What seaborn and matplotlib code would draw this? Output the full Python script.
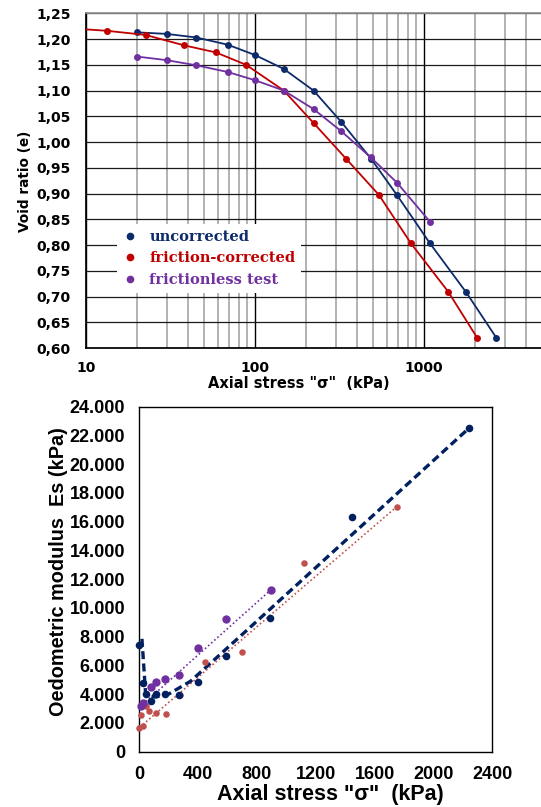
import numpy as np
import pandas as pd
import matplotlib
matplotlib.use("Agg")
import matplotlib.pyplot as plt
import seaborn as sns
from matplotlib.ticker import FixedLocator, FuncFormatter, NullFormatter, LogLocator
from matplotlib.lines import Line2D

# ---------------- top chart: void ratio vs axial stress (log) ----------------
unc_stress = [20, 30, 45, 69, 100, 148, 222, 324, 485, 692, 1086, 1778, 2678]
unc_void = [1.213, 1.210, 1.203, 1.189, 1.169, 1.142, 1.100, 1.039, 0.968, 0.897, 0.803, 0.708, 0.620]
fc_stress = [8, 13.3, 22.5, 37.8, 58.7, 88.5, 148, 222, 345, 542, 838, 1393, 2061]
fc_void = [1.221, 1.216, 1.208, 1.188, 1.174, 1.150, 1.100, 1.037, 0.968, 0.897, 0.803, 0.709, 0.620]
fl_stress = [20, 30, 45, 69, 100, 148, 222, 324, 485, 692, 1086]
fl_void = [1.166, 1.159, 1.149, 1.136, 1.120, 1.100, 1.064, 1.021, 0.970, 0.921, 0.845]
series_labels = ["uncorrected", "friction-corrected", "frictionless test"]

# ---------------- bottom chart: oedometric modulus vs axial stress ----------------
es_unc_stress = [0, 25, 45, 80, 116, 175, 270, 401, 589, 893, 1446, 2241]
es_unc = [7420, 4760, 4010, 3550, 3990, 3990, 3920, 4870, 6660, 9320, 16350, 22500]
es_fc_stress = [0, 11, 25, 45, 70, 113, 184, 281, 449, 700, 1122, 1752]
es_fc = [1650, 2550, 1790, 3180, 2810, 2670, 2600, 3920, 6260, 6940, 13130, 17050]
es_fl_stress = [11, 27, 80, 116, 175, 270, 401, 589, 895]
es_fl = [3180, 3390, 4480, 4870, 5040, 5320, 7240, 9250, 11250]
# trend lines
unc_trend_x = [20, 45, 110, 200, 350, 755, 2241]
unc_trend_y = [7850, 4000, 3800, 4000, 4900, 8655, 22500]
fc_trend_x = [5, 1752]
fc_trend_y = [1700, 17050]
fl_trend_x = [5, 895]
fl_trend_y = [3100, 11250]

x_ticks_bottom = [0, 400, 800, 1200, 1600, 2000, 2400]
y_ticks_bottom = list(range(0, 24001, 2000))
y_ticks_top = [0.60, 0.65, 0.70, 0.75, 0.80, 0.85, 0.90, 0.95, 1.00, 1.05, 1.10, 1.15, 1.20, 1.25]

NAVY_T = "#0D2B6B"
RED_T = "#C00000"
PURP = "#7030A0"
NAVY_B = "#002060"
RED_B = "#C0504D"

sns.set_theme(style="white")
plt.rcParams["font.family"] = ["DejaVu Sans"]

fig = plt.figure(figsize=(5.41, 8.07), dpi=100)
ax1 = fig.add_axes([86 / 541, 1 - 348 / 807, 1 - 86 / 541, (348 - 13.3) / 807])
ax2 = fig.add_axes([139 / 541, 1 - 751.7 / 807, (492.3 - 139) / 541, (751.7 - 406.7) / 807])

# ---- top ----
ax1.set_xscale("log")
for xs, ys, col in [(unc_stress, unc_void, NAVY_T), (fc_stress, fc_void, RED_T), (fl_stress, fl_void, PURP)]:
    sns.lineplot(x=xs, y=ys, ax=ax1, sort=False, estimator=None, color=col, lw=1.3,
                 marker="o", markersize=5, markeredgewidth=0, zorder=3)
xmax = 10 ** (1 + (541 - 86) / 169)
ax1.set_xlim(10, xmax)
ax1.set_ylim(0.60, 1.25)
ax1.yaxis.set_major_locator(FixedLocator(y_ticks_top))
ax1.yaxis.set_major_formatter(FuncFormatter(lambda v, p: f"{v:.2f}".replace(".", ",")))
ax1.xaxis.set_major_locator(FixedLocator([10, 100, 1000]))
ax1.xaxis.set_minor_locator(LogLocator(base=10, subs=range(2, 10), numticks=20))
ax1.xaxis.set_major_formatter(FuncFormatter(lambda v, p: f"{v:g}"))
ax1.xaxis.set_minor_formatter(NullFormatter())
ax1.grid(which="minor", axis="x", color="#A6A6A6", lw=1.2, zorder=0)
ax1.grid(which="major", axis="x", color="black", lw=1.0, zorder=0)
ax1.grid(which="major", axis="y", color="#1a1a1a", lw=0.9, zorder=0)
ax1.set_axisbelow(True)
ax1.tick_params(which="both", length=0, labelsize=10, labelcolor="black")
ax1.tick_params(axis="y", pad=11)
ax1.tick_params(axis="x", pad=9)
ax1.spines["right"].set_visible(False)
ax1.spines["top"].set_color("#909090")
ax1.spines["left"].set_color("black")
ax1.spines["bottom"].set_color("black")
ax1.set_xlabel('Axial stress "σ"  (kPa)', fontsize=10.5, fontweight="bold", color="black")
ax1.xaxis.set_label_coords(0.468, -0.085)
ax1.set_ylabel("Void ratio (e)", fontsize=9.8, fontweight="bold", color="black")
ax1.yaxis.set_label_coords(-0.119, 0.499)

handles = [Line2D([], [], ls="none", marker="o", markersize=5.5, markeredgewidth=0, color=c)
           for c in (NAVY_T, RED_T, PURP)]
leg = ax1.legend(handles, series_labels, loc="upper left", bbox_to_anchor=(110 / 541, 1 - 217 / 807),
                 bbox_transform=fig.transFigure, frameon=True, facecolor="white", edgecolor="none",
                 framealpha=1, fancybox=False, handlelength=1.0, handletextpad=0.8, borderpad=0.4,
                 labelspacing=0.5, prop={"family": "DejaVu Serif", "weight": "bold", "size": 10.5})
for t, c in zip(leg.get_texts(), (NAVY_T, RED_T, PURP)):
    t.set_color(c)

# ---- bottom ----
sns.lineplot(x=fc_trend_x, y=fc_trend_y, ax=ax2, sort=False, estimator=None, color=RED_B,
             lw=1.2, linestyle=(0, (1, 1.5)), zorder=2)
sns.lineplot(x=fl_trend_x, y=fl_trend_y, ax=ax2, sort=False, estimator=None, color=PURP,
             lw=1.2, linestyle=(0, (1, 1.5)), zorder=2)
sns.lineplot(x=unc_trend_x, y=unc_trend_y, ax=ax2, sort=False, estimator=None, color=NAVY_B,
             lw=2.4, linestyle=(0, (2.4, 1.3)), zorder=3)
sns.scatterplot(x=es_fc_stress, y=es_fc, ax=ax2, color=RED_B, s=22, linewidth=0, zorder=4, clip_on=False)
sns.scatterplot(x=es_fl_stress, y=es_fl, ax=ax2, color=PURP, s=36, linewidth=0, zorder=4, clip_on=False)
sns.scatterplot(x=es_unc_stress, y=es_unc, ax=ax2, color=NAVY_B, s=30, linewidth=0, zorder=5, clip_on=False)
ax2.set_xlim(0, 2400)
ax2.set_ylim(0, 24000)
ax2.xaxis.set_major_locator(FixedLocator(x_ticks_bottom))
ax2.yaxis.set_major_locator(FixedLocator(y_ticks_bottom))
ax2.yaxis.set_major_formatter(FuncFormatter(lambda v, p: f"{int(round(v)):,}".replace(",", ".")))
ax2.xaxis.set_major_formatter(FuncFormatter(lambda v, p: f"{int(round(v))}"))
ax2.tick_params(length=0, labelsize=13, labelcolor="black", labelfontfamily="Liberation Sans")
ax2.tick_params(axis="y", pad=10)
ax2.tick_params(axis="x", pad=10)
for sp in ax2.spines.values():
    sp.set_color("black")
    sp.set_linewidth(1.0)
    sp.set_visible(True)
ax2.set_xlabel('Axial stress "σ"  (kPa)', fontsize=15.5, fontweight="bold", family="Liberation Sans",
               color="black")
ax2.xaxis.set_label_coords(0.543, -0.094)
ax2.set_ylabel("Oedometric modulus  Es (kPa)", fontsize=14.3, fontweight="bold", family="Liberation Sans",
               color="black")
ax2.yaxis.set_label_coords(-0.200, 0.521)

fig.canvas.draw()
for ax in (ax1, ax2):
    for lab in ax.get_xticklabels() + ax.get_yticklabels():
        lab.set_fontweight("bold")

fig.savefig("out.png", dpi=100)
